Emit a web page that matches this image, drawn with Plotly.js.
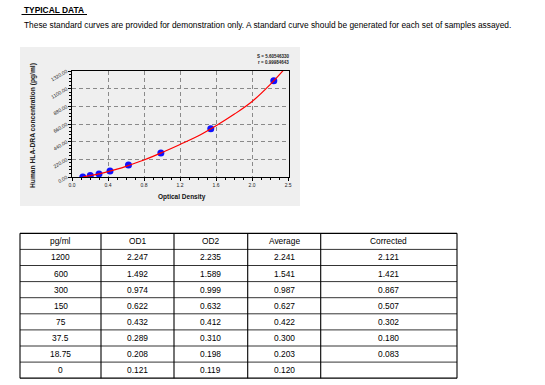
<!DOCTYPE html>
<html><head><meta charset="utf-8">
<script src="https://cdn.plot.ly/plotly-3.0.1.min.js"></script>
<style>html,body{margin:0;padding:0;background:#fff}#c{width:545px;height:385px}</style>
</head><body><div id="c"></div>
<script>
// Standard points (Average OD vs concentration)
var pointOD   = [0.120, 0.203, 0.300, 0.422, 0.627, 0.987, 1.541, 2.241];
var pointConc = [0, 18.75, 37.5, 75, 150, 300, 600, 1200];
// Fitted curve
var curveOD   = [0.12, 0.20, 0.30, 0.40, 0.50, 0.60, 0.80, 1.00, 1.20, 1.40, 1.60, 1.80, 2.00, 2.20, 2.36];
var curveConc = [0, 17, 40, 67, 98, 133, 212, 305, 405, 510, 638, 780, 940, 1150, 1345];
// Table
var colHeaders = ["pg/ml", "OD1", "OD2", "Average", "Corrected"];
var colPg   = ["1200", "600", "300", "150", "75", "37.5", "18.75", "0"];
var colOD1  = ["2.247", "1.492", "0.974", "0.622", "0.432", "0.289", "0.208", "0.121"];
var colOD2  = ["2.235", "1.589", "0.999", "0.632", "0.412", "0.310", "0.198", "0.119"];
var colAvg  = ["2.241", "1.541", "0.987", "0.627", "0.422", "0.300", "0.203", "0.120"];
var colCorr = ["2.121", "1.421", "0.867", "0.507", "0.302", "0.180", "0.083", ""];
var yTicks = [0, 220, 440, 660, 880, 1100, 1320];
var xTicks = [0, 0.4, 0.8, 1.2, 1.6, 2.0, 2.4];
var xTickText = ["0.0", "0.4", "0.8", "1.2", "1.6", "2.0", "2.5"];

var W = 545, H = 385;
function px(x){return x / W;}
function py(y){return 1 - y / H;}
var F = "Liberation Sans, Arial, sans-serif";

var traces = [
  {type:'scatter', mode:'markers', x:pointOD, y:pointConc,
   marker:{color:'#1010ff', size:7}, hoverinfo:'skip', showlegend:false},
  {type:'scatter', mode:'lines', x:curveOD, y:curveConc, line:{color:'#ff0000', width:1.2, shape:'spline'},
   hoverinfo:'skip', showlegend:false}
];

var shapes = [
  {type:'rect', xref:'paper', yref:'paper', x0:px(20), x1:px(300), y0:py(206), y1:py(47),
   fillcolor:'#efefef', line:{width:0}, layer:'below'},
  {type:'line', xref:'paper', yref:'paper', x0:px(21.5), x1:px(87), y0:py(14.5), y1:py(14.5),
   line:{color:'#000', width:1}}
];
var annotations = [
  {xref:'paper', yref:'paper', x:px(21.5), y:py(10), xanchor:'left', yanchor:'middle', showarrow:false,
   text:'<b>TYPICAL DATA</b>', font:{family:F, size:8.4, color:'#000'}},
  {xref:'paper', yref:'paper', x:px(21.5), y:py(25), xanchor:'left', yanchor:'middle', showarrow:false,
   text:'These standard curves are provided for demonstration only. A standard curve should be generated for each set of samples assayed.',
   font:{family:F, size:8.35, color:'#000'}},
  {xref:'paper', yref:'paper', x:px(33), y:py(126), xanchor:'center', yanchor:'middle', showarrow:false,
   textangle:-90, text:'<b>Human HLA-DRA concentration (pg/ml)</b>', font:{family:F, size:6.7, color:'#222'}},
  {xref:'paper', yref:'paper', x:px(182), y:py(197), xanchor:'center', yanchor:'middle', showarrow:false,
   text:'<b>Optical Density</b>', font:{family:F, size:6.5, color:'#111'}},
  {xref:'paper', yref:'paper', x:px(291), y:py(56), xanchor:'right', yanchor:'middle', showarrow:false,
   text:'<b>S = 5.60546330</b>', font:{family:F, size:4.5, color:'#222'}},
  {xref:'paper', yref:'paper', x:px(291), y:py(63), xanchor:'right', yanchor:'middle', showarrow:false,
   text:'<b>r = 0.99984643</b>', font:{family:F, size:4.5, color:'#222'}}
];

// Table built from the arrays above
var tblCols = [colPg, colOD1, colOD2, colAvg, colCorr];
var colEdges = [20, 101, 174, 247.7, 320.7, 457];
var tblTop = 233.3, rowH = 16.1, nRows = colPg.length + 1;
var tblBottom = tblTop + nRows * rowH;
for (var r = 0; r <= nRows; r++) {
  var yy = tblTop + r * rowH;
  shapes.push({type:'line', xref:'paper', yref:'paper', x0:px(colEdges[0]), x1:px(colEdges[colEdges.length-1]),
    y0:py(yy), y1:py(yy), line:{color:'#000', width:(r===0||r===nRows)?1.3:0.8}});
}
for (var c = 0; c < colEdges.length; c++) {
  shapes.push({type:'line', xref:'paper', yref:'paper', x0:px(colEdges[c]), x1:px(colEdges[c]),
    y0:py(tblTop), y1:py(tblBottom), line:{color:'#000', width:1.1}});
}
for (var c = 0; c < tblCols.length; c++) {
  var cx = (colEdges[c] + colEdges[c+1]) / 2;
  var col = [colHeaders[c]].concat(tblCols[c]);
  for (var r = 0; r < col.length; r++) {
    if (col[r] === "") continue;
    annotations.push({xref:'paper', yref:'paper', x:px(cx), y:py(tblTop + (r + 0.5) * rowH),
      xanchor:'center', yanchor:'middle', showarrow:false, text:col[r],
      font:{family:F, size:8.4, color:'#000'}});
  }
}

var layout = {
  width:W, height:H, margin:{l:0, r:0, t:0, b:0}, showlegend:false,
  paper_bgcolor:'#fff', plot_bgcolor:'#fff',
  xaxis:{domain:[px(72), px(289)], range:[0, 2.41], tickvals:xTicks, ticktext:xTickText,
    showline:true, linecolor:'#000', linewidth:1.3, mirror:true, zeroline:false,
    showgrid:true, gridcolor:'#8a8a8a', griddash:'4px,3px', gridwidth:1,
    ticks:'outside', ticklen:3, tickcolor:'#000',
    minor:{dtick:0.1, ticks:'outside', ticklen:2, tickcolor:'#000', showgrid:false},
    tickfont:{family:F, size:5, color:'#222'}, fixedrange:true},
  yaxis:{domain:[py(177), py(71)], range:[0, 1320], tickvals:yTicks, tickformat:'.2f',
    showline:true, linecolor:'#000', linewidth:1.3, mirror:true, zeroline:false,
    showgrid:true, gridcolor:'#8a8a8a', griddash:'4px,3px', gridwidth:1,
    ticks:'outside', ticklen:3, tickcolor:'#000', tickangle:-30,
    minor:{dtick:44, ticks:'outside', ticklen:2, tickcolor:'#000', showgrid:false},
    tickfont:{family:F, size:5, color:'#222'}, fixedrange:true},
  shapes:shapes,
  annotations:annotations
};
Plotly.newPlot('c', traces, layout, {staticPlot:true, displayModeBar:false});
</script></body></html>
